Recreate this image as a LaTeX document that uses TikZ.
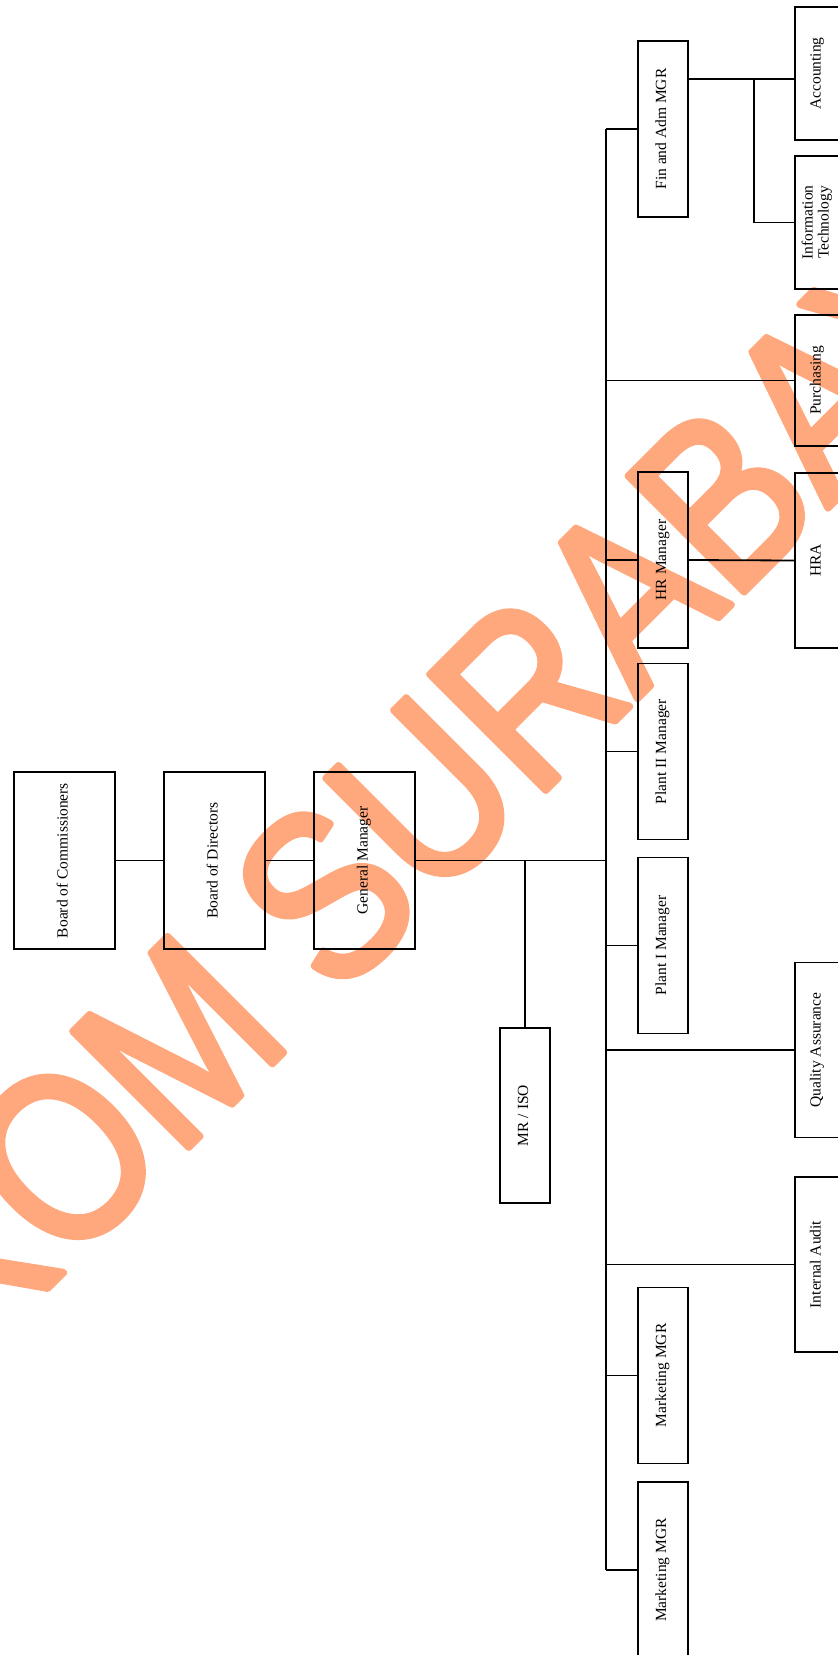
\documentclass[tikz,border=0pt]{standalone}
\usepackage{fontspec}
\setmainfont{Liberation Serif}
\setsansfont{Liberation Sans}
\usepackage{graphicx}

\definecolor{stamp}{RGB}{255,168,126}
\newcommand{\vtext}[1]{\rotatebox{90}{\begin{tabular}{@{}c@{}}#1\end{tabular}}}
\newcommand{\heavy}[1]{\special{pdf:literal direct 2 Tr 6 w 1 j}#1\special{pdf:literal direct 0 Tr}}

\begin{document}
\begin{tikzpicture}[x=1pt,y=-1pt]
  % Define styles for nodes
  \tikzstyle{box} = [draw, rectangle, line width=1.8pt, inner sep=0pt,
  font=\fontsize{15.5}{16}\selectfont]
  \tikzstyle{board} = [box, minimum width=101, minimum height=177]
  \tikzstyle{manager} = [box, minimum width=50, minimum height=176]
  \tikzstyle{unit} = [box, minimum width=45, minimum height=175]
  \tikzstyle{link} = [line width=1.8pt]

  \useasboundingbox (0,0) rectangle (838,1655);

  % Watermark
  \node[text=stamp, font=\sffamily\fontsize{202}{202}\selectfont,
  rotate=45, yscale=1.18] (mark) at (362,858) {\heavy{STIKOM SURABAYA}};

  % Board and general manager
  \node[board] (boc) at (64.5,860.5) {\vtext{Board of Commissioners}};
  \node[board] (bod) at (214.5,860.5) {\vtext{Board of Directors}};
  \node[board] (gm) at (364.5,860.5) {\vtext{General Manager}};
  \node[manager, minimum height=175] (mr) at (525,1115.5) {\vtext{MR / ISO}};

  % Managers
  \node[manager] (fin) at (663,129) {\vtext{Fin and Adm MGR}};
  \node[manager] (hr) at (663,560) {\vtext{HR Manager}};
  \node[manager] (p2) at (663,751.5) {\vtext{Plant II Manager}};
  \node[manager] (p1) at (663,945.5) {\vtext{Plant I Manager}};
  \node[manager] (mk1) at (663,1375.5) {\vtext{Marketing MGR}};
  \node[manager] (mk2) at (663,1570) {\vtext{Marketing MGR}};

  % Departments
  \node[unit, minimum height=133] (acc) at (817.5,73.5) {\vtext{Accounting}};
  \node[unit, minimum height=133] (it) at (817.5,222.5)
  {\vtext{Information\\Technology}};
  \node[unit, minimum height=131] (pur) at (817.5,380.5) {\vtext{Purchasing}};
  \node[unit] (hra) at (817.5,560.5) {\vtext{HRA}};
  \node[unit] (qa) at (817.5,1050) {\vtext{Quality Assurance}};
  \node[unit] (ia) at (817.5,1264.5) {\vtext{Internal Audit}};

  % Trunk
  \coordinate (top) at (606,129);
  \coordinate (bot) at (606,1570);
  \coordinate (split) at (754,79);

  % Connections
  \draw[link] (boc) -- (bod);
  \draw[link] (bod) -- (gm);
  \draw[link] (gm.east) -- (gm.east -| top);
  \draw[link] (gm.east -| mr) -- (mr.north);
  \draw[link] (top) -- (bot);
  \foreach \n in {fin,hr,p2,p1,mk1,mk2,pur,qa,ia}
    \draw[link] (\n.west -| top) -- (\n.west);
  \draw[link] (fin.east |- split) -- (split) -- (split -| acc.west);
  \draw[link] (split) |- (it.west);
  \draw[link] (hr.east) -- (hra.west);

\end{tikzpicture}
\end{document}
